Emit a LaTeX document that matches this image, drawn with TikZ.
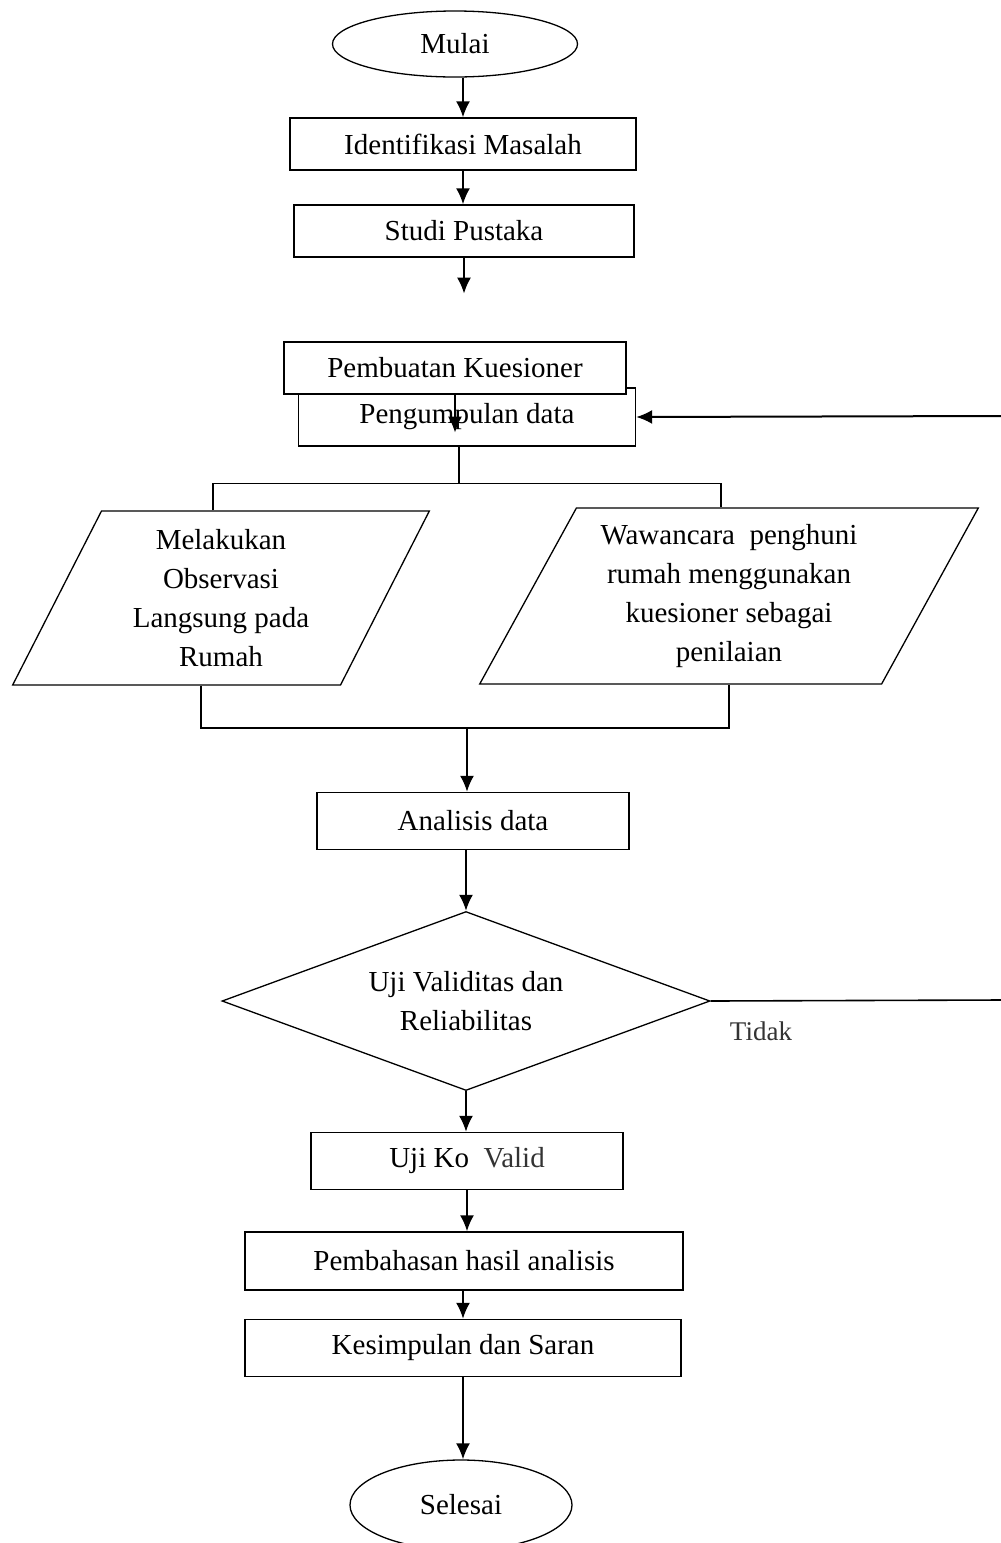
\documentclass[tikz,border=0pt]{standalone}
\usepackage{fontspec}
\setmainfont{Liberation Serif}
\usetikzlibrary{shapes.geometric,arrows.meta}

\tikzset{
  box/.style={draw, rectangle, inner sep=0pt, line width=1.3pt},
  term/.style={draw, ellipse, inner sep=0pt, line width=1.3pt},
  inout/.style={draw, trapezium, trapezium stretches=true, inner sep=0pt, align=center, line width=1.3pt},
  arr/.style={line width=2pt, -{Latex[length=16pt,width=14pt]}},
  line/.style={line width=1.6pt},
  pasted/.style={text=black!80}
}

\begin{document}
\begin{tikzpicture}[x=1pt, y=-1pt, font=\fontsize{29}{39}\selectfont]
			%%%%% START %%%%%
			\useasboundingbox (0,0) rectangle (1001,1543);

			\node[term, minimum width=245, minimum height=66] (mulai) at (455,44) {Mulai};
			\node[box, minimum width=346, minimum height=52] (idm) at (463,144) {Identifikasi Masalah};
			\node[box, minimum width=340, minimum height=52] (studi) at (464,231) {Studi Pustaka};

			\node[box, minimum width=337, minimum height=58] (pd) at (467,417) {Pengumpulan data};
			\node[box, fill=white, minimum width=342, minimum height=52] (pk) at (455,368) {Pembuatan Kuesioner};

			\node[inout, trapezium left angle=64.5, trapezium right angle=115.5,
			      minimum width=417, minimum height=174] (obs) at (221,598)
			      {Melakukan\\Observasi\\Langsung pada\\Rumah};
			\node[inout, trapezium left angle=60.4, trapezium right angle=119.6,
			      minimum width=499, minimum height=176] (waw) at (729,596)
			      {Wawancara\ \ penghuni\\rumah menggunakan\\kuesioner sebagai\\penilaian};

			\node[box, minimum width=312, minimum height=57] (ana) at (473,821) {Analisis data};
			\node[draw, diamond, shape aspect=2.73, inner sep=0pt, line width=1.3pt, align=center,
			      minimum width=488, minimum height=179] (ujiv) at (466,1001)
			      {Uji Validitas dan\\Reliabilitas};
			\node[box, minimum width=312, minimum height=57] (ujik) at (467,1161)
			      {Uji Ko\ \ {\color{black!80}Valid}};
			\node[box, minimum width=438, minimum height=58] (bahas) at (464,1261) {Pembahasan hasil analisis};
			\node[box, minimum width=436, minimum height=57] (kes) at (463,1348) {Kesimpulan dan Saran};
			\node[term, minimum width=222, minimum height=90] (sel) at (461,1505) {Selesai};

			\node[pasted, font=\fontsize{27}{30}\selectfont] (tidak) at (761,1031) {Tidak};

			% alur utama
			\draw[arr] (idm.north |- mulai.south) -- (idm.north);
			\draw[arr] (idm.south) -- (idm.south |- studi.north);
			\draw[arr] (studi.south) -- ++(0,36);
			\draw[arr] (pk.south) -- ++(0,38);

			% cabang pengumpulan data
			\draw[line] ([xshift=-8pt]pd.south) -- ++(0,37) coordinate (split);
			\draw[line] ([xshift=-8pt]obs.north) |- (split) -| ([xshift=-8pt]waw.north);
			\coordinate (merge) at (467,728);
			\draw[line] ([xshift=-20pt]obs.south) |- (merge) -| (waw.south);
			\draw[arr] (merge) -- (merge |- ana.north);

			\draw[arr] (ujiv.north |- ana.south) -- (ujiv.north);
			\draw[arr] (ujiv.south) -- (ujiv.south |- ujik.north);
			\draw[arr] (ujik.south) -- (ujik.south |- bahas.north);
			\draw[arr] (kes.north |- bahas.south) -- (kes.north);
			\draw[arr] (kes.south) -- (kes.south |- sel.north);

			% balik ke pengumpulan data
			\coordinate (tidakend) at (1001,1000);
			\coordinate (balik) at (1001,416);
			\draw[line] (ujiv.east) -- (tidakend);
			\draw[arr] (balik) -- (pd.east);
			%%%%% END %%%%%
\end{tikzpicture}
\end{document}
